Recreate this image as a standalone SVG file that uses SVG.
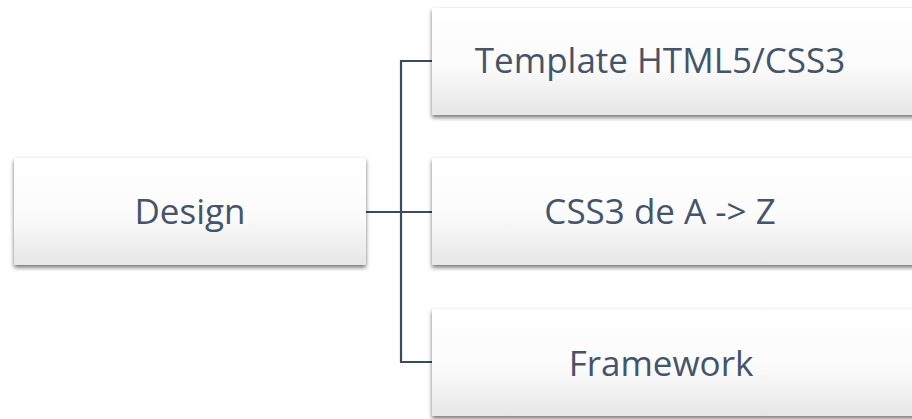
<svg xmlns="http://www.w3.org/2000/svg" width="912" height="419" viewBox="0 0 912 419">
  <defs>
    <linearGradient id="boxFill" x1="0" y1="0" x2="0" y2="1">
      <stop offset="0" stop-color="#ffffff"/>
      <stop offset="0.55" stop-color="#fbfbfb"/>
      <stop offset="1" stop-color="#e6e6e6"/>
    </linearGradient>
    <filter id="shadow" x="-10%" y="-20%" width="120%" height="150%">
      <feDropShadow dx="0" dy="2.5" stdDeviation="2.2" flood-color="#000000" flood-opacity="0.55"/>
    </filter>
  </defs>
  <style>
    .box { fill: url(#boxFill); filter: url(#shadow); }
    .label { font-family: "Open Sans", "Noto Sans", sans-serif; font-size: 35px; fill: #44546a; text-anchor: middle; }
    .conn { fill: none; stroke: #3b4a5e; stroke-width: 2.2; }
  </style>
  <rect width="912" height="419" fill="#ffffff"/>
  <g id="connectors">
    <path class="conn" d="M366 212 H432"/>
    <path class="conn" d="M432 61 H401 V362 H432"/>
  </g>
  <g id="node-design">
    <rect class="box" x="14" y="158" width="352" height="107"/>
    <text class="label" x="190" y="223.5">Design</text>
  </g>
  <g id="node-template">
    <rect class="box" x="432" y="8" width="500" height="107"/>
    <text class="label" x="660" y="73">Template HTML5/CSS3</text>
  </g>
  <g id="node-css3">
    <rect class="box" x="432" y="158" width="500" height="107"/>
    <text class="label" x="660" y="224">CSS3 de A -&gt; Z</text>
  </g>
  <g id="node-framework">
    <rect class="box" x="432" y="309" width="500" height="107"/>
    <text class="label" x="661" y="375.5">Framework</text>
  </g>
</svg>
